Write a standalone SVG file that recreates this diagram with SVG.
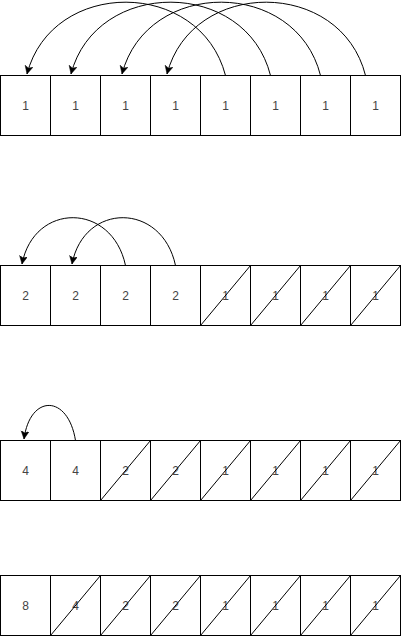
<svg xmlns="http://www.w3.org/2000/svg" width="402" height="637" viewBox="0 0 402 637">
<style>
.c{fill:#fff;stroke:#000;stroke-width:1}
.d{stroke:#000;stroke-width:1;fill:none}
.t{font-family:"Liberation Sans",Arial,sans-serif;font-size:12px;fill:#444;text-anchor:middle}
.e{fill:none;stroke:#000;stroke-width:1;marker-end:url(#a)}
</style>
<defs>
<marker id="a" markerWidth="10" markerHeight="10" refX="8" refY="4" orient="auto" markerUnits="userSpaceOnUse">
<path d="M0,0 L8,4 L0,8 L2,4 Z" fill="#000" stroke="#000" stroke-width="0.5"/>
</marker>
</defs>
<!-- Row 1 -->
<g id="r1c1"><rect class="c" x="0.5" y="75.5" width="50" height="60"/><text class="t" x="25.5" y="110">1</text></g>
<g id="r1c2"><rect class="c" x="50.5" y="75.5" width="50" height="60"/><text class="t" x="75.5" y="110">1</text></g>
<g id="r1c3"><rect class="c" x="100.5" y="75.5" width="50" height="60"/><text class="t" x="125.5" y="110">1</text></g>
<g id="r1c4"><rect class="c" x="150.5" y="75.5" width="50" height="60"/><text class="t" x="175.5" y="110">1</text></g>
<g id="r1c5"><rect class="c" x="200.5" y="75.5" width="50" height="60"/><text class="t" x="225.5" y="110">1</text></g>
<g id="r1c6"><rect class="c" x="250.5" y="75.5" width="50" height="60"/><text class="t" x="275.5" y="110">1</text></g>
<g id="r1c7"><rect class="c" x="300.5" y="75.5" width="50" height="60"/><text class="t" x="325.5" y="110">1</text></g>
<g id="r1c8"><rect class="c" x="350.5" y="75.5" width="50" height="60"/><text class="t" x="375.5" y="110">1</text></g>
<!-- Row 2 -->
<g id="r2c1"><rect class="c" x="0.5" y="265.5" width="50" height="60"/><text class="t" x="25.5" y="300">2</text></g>
<g id="r2c2"><rect class="c" x="50.5" y="265.5" width="50" height="60"/><text class="t" x="75.5" y="300">2</text></g>
<g id="r2c3"><rect class="c" x="100.5" y="265.5" width="50" height="60"/><text class="t" x="125.5" y="300">2</text></g>
<g id="r2c4"><rect class="c" x="150.5" y="265.5" width="50" height="60"/><text class="t" x="175.5" y="300">2</text></g>
<g id="r2c5"><rect class="c" x="200.5" y="265.5" width="50" height="60"/><text class="t" x="225.5" y="300">1</text><line class="d" x1="200.5" y1="325.5" x2="250.5" y2="265.5"/></g>
<g id="r2c6"><rect class="c" x="250.5" y="265.5" width="50" height="60"/><text class="t" x="275.5" y="300">1</text><line class="d" x1="250.5" y1="325.5" x2="300.5" y2="265.5"/></g>
<g id="r2c7"><rect class="c" x="300.5" y="265.5" width="50" height="60"/><text class="t" x="325.5" y="300">1</text><line class="d" x1="300.5" y1="325.5" x2="350.5" y2="265.5"/></g>
<g id="r2c8"><rect class="c" x="350.5" y="265.5" width="50" height="60"/><text class="t" x="375.5" y="300">1</text><line class="d" x1="350.5" y1="325.5" x2="400.5" y2="265.5"/></g>
<!-- Row 3 -->
<g id="r3c1"><rect class="c" x="0.5" y="440.5" width="50" height="60"/><text class="t" x="25.5" y="475">4</text></g>
<g id="r3c2"><rect class="c" x="50.5" y="440.5" width="50" height="60"/><text class="t" x="75.5" y="475">4</text></g>
<g id="r3c3"><rect class="c" x="100.5" y="440.5" width="50" height="60"/><text class="t" x="125.5" y="475">2</text><line class="d" x1="100.5" y1="500.5" x2="150.5" y2="440.5"/></g>
<g id="r3c4"><rect class="c" x="150.5" y="440.5" width="50" height="60"/><text class="t" x="175.5" y="475">2</text><line class="d" x1="150.5" y1="500.5" x2="200.5" y2="440.5"/></g>
<g id="r3c5"><rect class="c" x="200.5" y="440.5" width="50" height="60"/><text class="t" x="225.5" y="475">1</text><line class="d" x1="200.5" y1="500.5" x2="250.5" y2="440.5"/></g>
<g id="r3c6"><rect class="c" x="250.5" y="440.5" width="50" height="60"/><text class="t" x="275.5" y="475">1</text><line class="d" x1="250.5" y1="500.5" x2="300.5" y2="440.5"/></g>
<g id="r3c7"><rect class="c" x="300.5" y="440.5" width="50" height="60"/><text class="t" x="325.5" y="475">1</text><line class="d" x1="300.5" y1="500.5" x2="350.5" y2="440.5"/></g>
<g id="r3c8"><rect class="c" x="350.5" y="440.5" width="50" height="60"/><text class="t" x="375.5" y="475">1</text><line class="d" x1="350.5" y1="500.5" x2="400.5" y2="440.5"/></g>
<!-- Row 4 -->
<g id="r4c1"><rect class="c" x="0.5" y="575.5" width="50" height="60"/><text class="t" x="25.5" y="610">8</text></g>
<g id="r4c2"><rect class="c" x="50.5" y="575.5" width="50" height="60"/><text class="t" x="75.5" y="610">4</text><line class="d" x1="50.5" y1="635.5" x2="100.5" y2="575.5"/></g>
<g id="r4c3"><rect class="c" x="100.5" y="575.5" width="50" height="60"/><text class="t" x="125.5" y="610">2</text><line class="d" x1="100.5" y1="635.5" x2="150.5" y2="575.5"/></g>
<g id="r4c4"><rect class="c" x="150.5" y="575.5" width="50" height="60"/><text class="t" x="175.5" y="610">2</text><line class="d" x1="150.5" y1="635.5" x2="200.5" y2="575.5"/></g>
<g id="r4c5"><rect class="c" x="200.5" y="575.5" width="50" height="60"/><text class="t" x="225.5" y="610">1</text><line class="d" x1="200.5" y1="635.5" x2="250.5" y2="575.5"/></g>
<g id="r4c6"><rect class="c" x="250.5" y="575.5" width="50" height="60"/><text class="t" x="275.5" y="610">1</text><line class="d" x1="250.5" y1="635.5" x2="300.5" y2="575.5"/></g>
<g id="r4c7"><rect class="c" x="300.5" y="575.5" width="50" height="60"/><text class="t" x="325.5" y="610">1</text><line class="d" x1="300.5" y1="635.5" x2="350.5" y2="575.5"/></g>
<g id="r4c8"><rect class="c" x="350.5" y="575.5" width="50" height="60"/><text class="t" x="375.5" y="610">1</text><line class="d" x1="350.5" y1="635.5" x2="400.5" y2="575.5"/></g>
<!-- Connectors -->
<g id="connectors">
<path class="e" d="M225.5,75.5 C200,-22 52,-22 27,74"/>
<path class="e" d="M270.5,75.5 C246,-22 96,-22 71,74"/>
<path class="e" d="M320.5,75.5 C296,-22 147,-22 122,74"/>
<path class="e" d="M365.5,75.5 C341,-22 192,-22 167,74"/>
<path class="e" d="M125.5,265.5 C112,202 34,202 22,264"/>
<path class="e" d="M175.5,265.5 C162,202 84,202 72,264"/>
<path class="e" d="M75.5,440.5 C68,394 30,394 24,439"/>
</g>
</svg>
